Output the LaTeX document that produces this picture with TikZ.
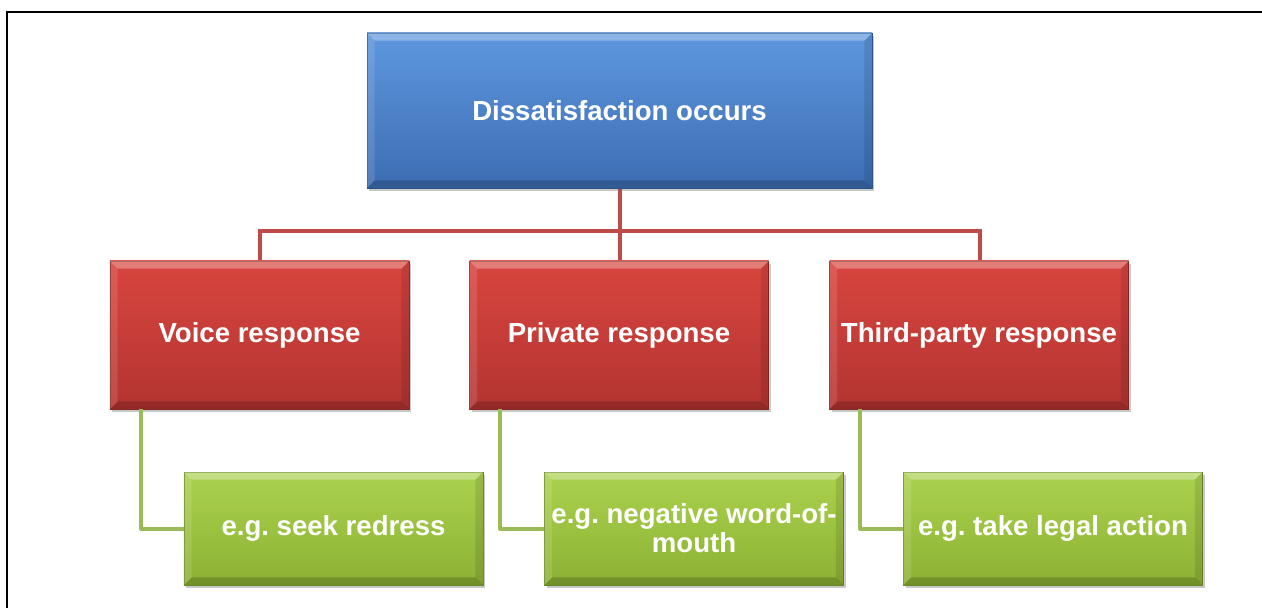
\documentclass[tikz,border=0pt]{standalone}
\usepackage{fontspec}
\setmainfont{Liberation Sans}
\usetikzlibrary{shadows,calc}
\frenchspacing
\definecolor{bluetop}{HTML}{5E97DE}
\definecolor{bluebot}{HTML}{3C6DB3}
\definecolor{redtop}{HTML}{D9453F}
\definecolor{redbot}{HTML}{B33431}
\definecolor{greentop}{HTML}{ABD24E}
\definecolor{greenbot}{HTML}{8CB133}
\definecolor{redline}{HTML}{BE4B48}
\definecolor{greenline}{HTML}{9BBB59}
\newcommand\bevelbox[1]{%
  \fill[white,opacity=0.30] (#1.north west) -- (#1.north east) -- ($(#1.north east)+(-8,8)$) -- ($(#1.north west)+(8,8)$) -- cycle;
  \fill[white,opacity=0.12] (#1.north west) -- ($(#1.north west)+(8,8)$) -- ($(#1.south west)+(8,-8)$) -- (#1.south west) -- cycle;
  \fill[black,opacity=0.18] (#1.south west) -- ($(#1.south west)+(8,-8)$) -- ($(#1.south east)+(-8,-8)$) -- (#1.south east) -- cycle;
  \fill[black,opacity=0.10] (#1.north east) -- (#1.south east) -- ($(#1.south east)+(-8,-8)$) -- ($(#1.north east)+(-8,8)$) -- cycle;
}
\tikzset{
  box/.style={rectangle, text=white, font=\fontsize{27.7}{29}\selectfont\bfseries, align=center, inner sep=0pt,
    line width=0.6bp, drop shadow={shadow xshift=2bp, shadow yshift=-3bp, opacity=0.35, fill=black!60}},
  bluebox/.style={box, top color=bluetop, bottom color=bluebot, draw=bluebot!80!black, minimum width=505bp, minimum height=155bp},
  redbox/.style={box, top color=redtop, bottom color=redbot, draw=redbot!80!black, minimum width=299bp, minimum height=148bp},
  greenbox/.style={box, top color=greentop, bottom color=greenbot, draw=greenbot!80!black, minimum width=299bp, minimum height=113bp},
  redconn/.style={draw=redline, line width=4bp},
  greenconn/.style={draw=greenline, line width=4bp, line join=round},
  frameline/.style={draw=black, line width=2bp}
}
\begin{document}
\begin{tikzpicture}[x=1bp,y=-1bp]
\useasboundingbox (0,0) rectangle (1262,608);
\fill[white] (0,0) rectangle (1262,608);
% frame
\coordinate (fl) at (7,608);
\coordinate (ftl) at (7,12);
\coordinate (ftr) at (1262,12);
\draw[frameline] (fl) -- (ftl) -- (ftr);
% red connectors (under boxes)
\coordinate (topc) at (619.5,188);
\coordinate (bus) at (619.5,231);
\coordinate (vtop) at (259.5,261);
\coordinate (ptop) at (619.5,261);
\coordinate (ttop) at (979.5,261);
\draw[redconn] (topc) -- (bus);
\draw[redconn] (vtop) |- (bus) -| (ttop);
\draw[redconn] (bus) -- (ptop);
% boxes
\node[bluebox] (top) at (619.5,110.5) {Dissatisfaction occurs};
\node[redbox] (voice) at (259.5,335) {Voice response};
\node[redbox] (private) at (619,335) {Private response};
\node[redbox] (third) at (979,335) {Third-party response};
\node[greenbox] (seek) at (333.5,528.5) {e.g. seek redress};
\node[greenbox] (neg) at (694,528.5) {e.g. negative word-of-\\mouth};
\node[greenbox] (legal) at (1053,528.5) {e.g. take legal action};
\bevelbox{top}\bevelbox{voice}\bevelbox{private}\bevelbox{third}
\bevelbox{seek}\bevelbox{neg}\bevelbox{legal}
% green connectors
\draw[greenconn] ($(voice.south west)+(31,0)$) |- (seek.west);
\draw[greenconn] ($(private.south west)+(31,0)$) |- (neg.west);
\draw[greenconn] ($(third.south west)+(31,0)$) |- (legal.west);
\end{tikzpicture}
\end{document}
